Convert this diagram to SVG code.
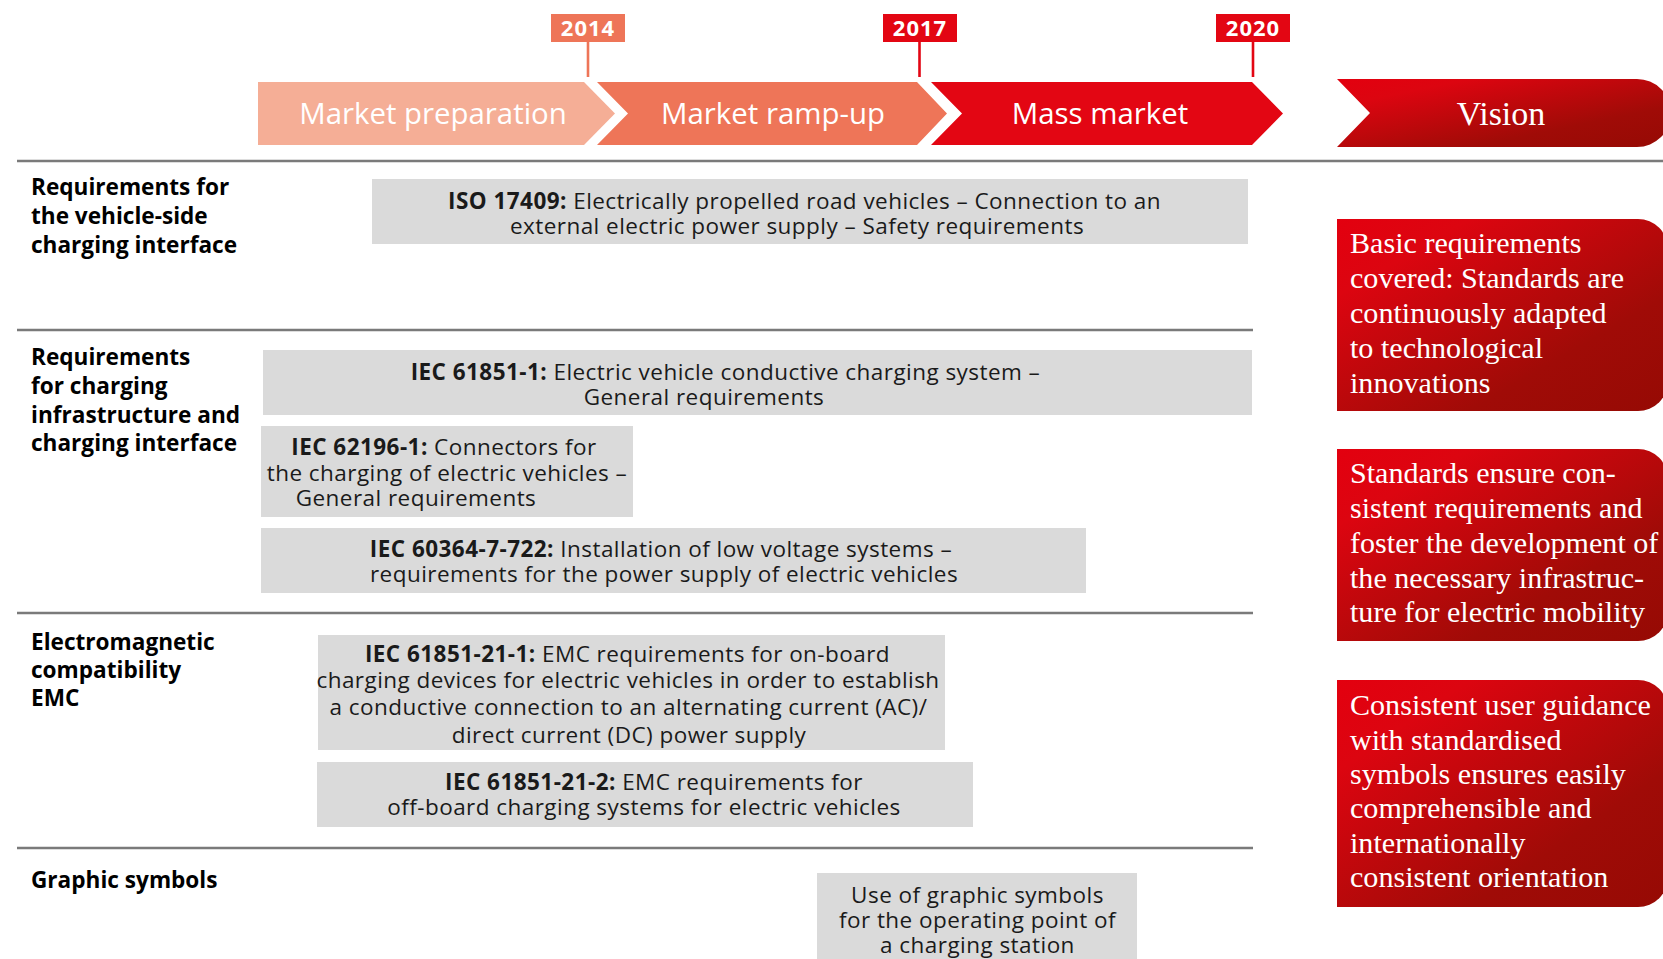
<svg xmlns="http://www.w3.org/2000/svg" width="1663" height="959" viewBox="0 0 1663 959">
<defs>
<linearGradient id="redGrad" x1="0" y1="0" x2="1" y2="1">
<stop offset="0" stop-color="#E3000F"/>
<stop offset="0.2" stop-color="#DC0510"/>
<stop offset="0.7" stop-color="#A00B07"/>
<stop offset="1" stop-color="#960A04"/>
</linearGradient>
<style>
.sep{stroke:#7A7A7A;stroke-width:2.6;fill:none}
.box{fill:#DADADA}
.t{font-family:"Open Sans","Liberation Sans",sans-serif;font-size:22.5px;letter-spacing:0.45px;fill:#1A1A1A;text-anchor:middle}
.b{font-weight:bold}
.head{font-family:"Open Sans","Liberation Sans",sans-serif;font-size:22.6px;font-weight:bold;fill:#000}
.phase{font-family:"Open Sans","Liberation Sans",sans-serif;font-size:29.4px;fill:#FFFFFF;text-anchor:middle}
.year{font-family:"Open Sans","Liberation Sans",sans-serif;font-size:22px;font-weight:bold;fill:#FFFFFF;text-anchor:middle;letter-spacing:1px}
.vis{font-family:"Liberation Serif","DejaVu Serif",serif;font-size:30.1px;fill:#FFFFFF}
.tick{stroke-width:2.6;fill:none}
</style>
</defs>

<g id="separators">
<line class="sep" x1="17" y1="161" x2="1663" y2="161"/>
<line class="sep" x1="17" y1="330" x2="1253" y2="330"/>
<line class="sep" x1="17" y1="613" x2="1253" y2="613"/>
<line class="sep" x1="17" y1="848" x2="1253" y2="848"/>
</g>

<g id="phase-market-preparation">
<path d="M258,82 H584 L615,113.5 L584,145 H258 Z" fill="#F5AE96"/>
<text class="phase" x="433" y="124">Market preparation</text>
</g>
<g id="phase-market-ramp-up">
<path d="M597,82 H917 L947,113.5 L917,145 H597 L628,113.5 Z" fill="#EE7558"/>
<text class="phase" x="773" y="124">Market ramp-up</text>
</g>
<g id="phase-mass-market">
<path d="M931,82 H1252 L1283,113.5 L1252,145 H931 L962,113.5 Z" fill="#E30613"/>
<text class="phase" x="1100" y="124">Mass market</text>
</g>
<g id="phase-vision">
<path d="M1337,79 H1637 A34,34 0 0 1 1671,113 A34,34 0 0 1 1637,147 H1337 L1370,113 Z" fill="url(#redGrad)"/>
<text x="1501" y="125" font-family="Liberation Serif, serif" font-size="34" fill="#FFFFFF" text-anchor="middle">Vision</text>
</g>

<g id="year-2014">
<line class="tick" x1="588" y1="42" x2="588" y2="77" stroke="#EE7558"/>
<rect x="551" y="14" width="74" height="28" fill="#EE7558"/>
<text class="year" x="588" y="36">2014</text>
</g>
<g id="year-2017">
<line class="tick" x1="919.5" y1="42" x2="919.5" y2="77" stroke="#E30613"/>
<rect x="883" y="14" width="74" height="28" fill="#E30613"/>
<text class="year" x="920" y="36">2017</text>
</g>
<g id="year-2020">
<line class="tick" x1="1253" y1="42" x2="1253" y2="77" stroke="#E30613"/>
<rect x="1216" y="14" width="74" height="28" fill="#E30613"/>
<text class="year" x="1253" y="36">2020</text>
</g>

<g id="heading-vehicle-side">
<text class="head" x="31" y="195">Requirements for</text>
<text class="head" x="31" y="224">the vehicle-side</text>
<text class="head" x="31" y="253">charging interface</text>
</g>
<g id="heading-infrastructure">
<text class="head" x="31" y="365">Requirements</text>
<text class="head" x="31" y="394">for charging</text>
<text class="head" x="31" y="423">infrastructure and</text>
<text class="head" x="31" y="451">charging interface</text>
</g>
<g id="heading-emc">
<text class="head" x="31" y="650">Electromagnetic</text>
<text class="head" x="31" y="678">compatibility</text>
<text class="head" x="31" y="706">EMC</text>
</g>
<g id="heading-graphic-symbols">
<text class="head" x="31" y="888">Graphic symbols</text>
</g>

<g id="std-iso-17409">
<rect class="box" x="372" y="179" width="876" height="65"/>
<text class="t" x="804.5" y="209"><tspan class="b">ISO 17409:</tspan> Electrically propelled road vehicles – Connection to an</text>
<text class="t" x="797" y="234">external electric power supply – Safety requirements</text>
</g>
<g id="std-iec-61851-1">
<rect class="box" x="263" y="350" width="989" height="65"/>
<text class="t" x="725.5" y="380"><tspan class="b">IEC 61851-1:</tspan> Electric vehicle conductive charging system –</text>
<text class="t" x="704" y="405">General requirements</text>
</g>
<g id="std-iec-62196-1">
<rect class="box" x="261" y="426" width="372" height="91"/>
<text class="t" x="444" y="455"><tspan class="b">IEC 62196-1:</tspan> Connectors for</text>
<text class="t" x="447" y="481">the charging of electric vehicles –</text>
<text class="t" x="416" y="506">General requirements</text>
</g>
<g id="std-iec-60364-7-722">
<rect class="box" x="261" y="528" width="825" height="65"/>
<text class="t" x="661" y="557"><tspan class="b">IEC 60364-7-722:</tspan> Installation of low voltage systems –</text>
<text class="t" x="664" y="582">requirements for the power supply of electric vehicles</text>
</g>
<g id="std-iec-61851-21-1">
<rect class="box" x="318" y="635" width="627" height="115"/>
<text class="t" x="627.5" y="662"><tspan class="b">IEC 61851-21-1:</tspan> EMC requirements for on-board</text>
<text class="t" x="628" y="688">charging devices for electric vehicles in order to establish</text>
<text class="t" x="628.5" y="715">a conductive connection to an alternating current (AC)/</text>
<text class="t" x="629" y="743">direct current (DC) power supply</text>
</g>
<g id="std-iec-61851-21-2">
<rect class="box" x="317" y="762" width="656" height="65"/>
<text class="t" x="654" y="790"><tspan class="b">IEC 61851-21-2:</tspan> EMC requirements for</text>
<text class="t" x="644" y="815">off-board charging systems for electric vehicles</text>
</g>
<g id="graphic-symbols-box">
<rect class="box" x="817" y="873" width="320" height="90"/>
<text class="t" x="977.5" y="903">Use of graphic symbols</text>
<text class="t" x="977.5" y="928">for the operating point of</text>
<text class="t" x="977.5" y="953">a charging station</text>
</g>

<g id="vision-basic-requirements">
<path d="M1337,219 H1638 A30,30 0 0 1 1668,249 V381 A30,30 0 0 1 1638,411 H1337 Z" fill="url(#redGrad)"/>
<text class="vis" x="1350" y="253">Basic requirements</text>
<text class="vis" x="1350" y="288">covered: Standards are</text>
<text class="vis" x="1350" y="323">continuously adapted</text>
<text class="vis" x="1350" y="358">to technological</text>
<text class="vis" x="1350" y="393">innovations</text>
</g>
<g id="vision-consistent-requirements">
<path d="M1337,449 H1638 A30,30 0 0 1 1668,479 V611 A30,30 0 0 1 1638,641 H1337 Z" fill="url(#redGrad)"/>
<text class="vis" x="1350" y="483">Standards ensure con-</text>
<text class="vis" x="1350" y="518">sistent requirements and</text>
<text class="vis" x="1350" y="553">foster the development of</text>
<text class="vis" x="1350" y="588">the necessary infrastruc-</text>
<text class="vis" x="1350" y="622">ture for electric mobility</text>
</g>
<g id="vision-user-guidance">
<path d="M1337,680 H1638 A30,30 0 0 1 1668,710 V877 A30,30 0 0 1 1638,907 H1337 Z" fill="url(#redGrad)"/>
<text class="vis" x="1350" y="715">Consistent user guidance</text>
<text class="vis" x="1350" y="750">with standardised</text>
<text class="vis" x="1350" y="784">symbols ensures easily</text>
<text class="vis" x="1350" y="818">comprehensible and</text>
<text class="vis" x="1350" y="853">internationally</text>
<text class="vis" x="1350" y="887">consistent orientation</text>
</g>
</svg>
